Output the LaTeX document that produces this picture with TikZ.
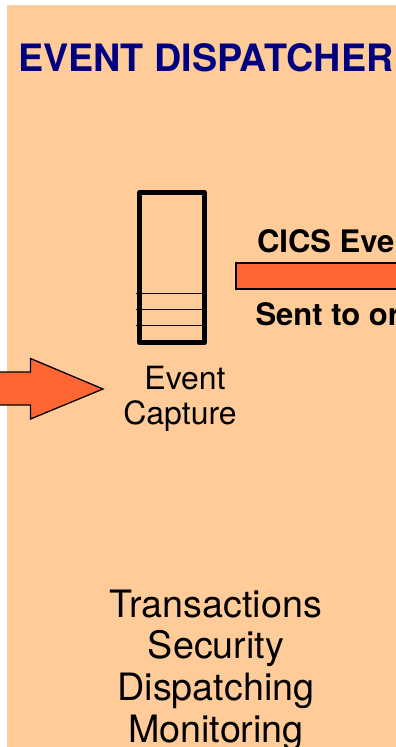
\documentclass[tikz,border=0pt]{standalone}
\usepackage{fontspec}
\setmainfont{TeX Gyre Heros}
\definecolor{panel}{HTML}{FFCC99}
\definecolor{flow}{HTML}{FF6633}
\definecolor{titleblue}{HTML}{000080}
\tikzset{
  x=1pt,y=-1pt,
  body/.style={inner sep=0pt,outer sep=0pt,anchor=base,font=\fontsize{37.7}{41}\selectfont},
  small/.style={inner sep=0pt,outer sep=0pt,anchor=base,font=\fontsize{32}{35}\selectfont},
  strong/.style={inner sep=0pt,outer sep=0pt,anchor=base west,font=\fontsize{31}{35}\selectfont\bfseries},
  flowshape/.style={fill=flow,draw=black,line width=1.3pt,line join=miter},
  rule/.style={draw=black,line width=1.3pt}
}
\begin{document}
\begin{tikzpicture}
\useasboundingbox (0,0) rectangle (396,747);
\clip (0,0) rectangle (396,747);
\fill[white] (0,0) rectangle (396,747);
\fill[panel] (7,5) rectangle (400,750);
\node[inner sep=0pt,anchor=base west,text=titleblue,font=\fontsize{37.7}{41}\selectfont\bfseries] (title) at (18,71) {EVENT DISPATCHER};
% queue
\draw[black,line width=5pt,line join=round] (139.5,192.5) rectangle (204.5,342.5);
\draw[rule] (135.5,293.5) -- (203,293.5);
\draw[rule] (135.5,309.5) -- (203,309.5);
\draw[rule] (135.5,325.5) -- (203,325.5);
% bar to the right
\draw[flowshape] (236,263) rectangle (410,289);
\node[strong] (cics) at (257,252) {CICS Eve};
\node[strong] (sent) at (255.5,325) {Sent to or};
% incoming block arrow
\draw[flowshape] (-10,372) -- (30.5,372) -- (30.5,358.5) -- (103,389) -- (30.5,419) -- (30.5,405) -- (-10,405) -- cycle;
\node[small] (event) at (185,389) {Event};
\node[small] (capture) at (180,424) {Capture};
\node[body] (t1) at (216,617) {Transactions};
\node[body] (t2) at (216,658) {Security};
\node[body] (t3) at (216,700) {Dispatching};
\node[body] (t4) at (216,742) {Monitoring};
\end{tikzpicture}
\end{document}
